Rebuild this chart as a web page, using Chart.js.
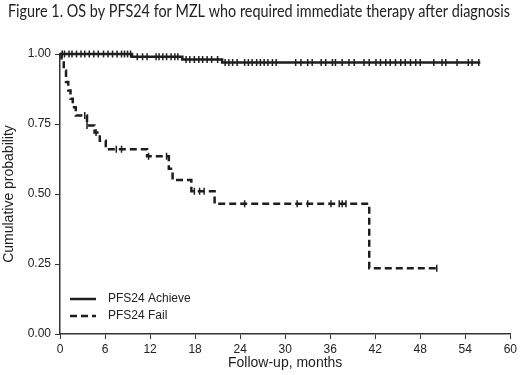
<!DOCTYPE html>
<html>
<head>
<meta charset="utf-8">
<script src="https://cdn.jsdelivr.net/npm/chart.js@4"></script>
<style>
  html, body { margin: 0; padding: 0; background: #fff; }
  #wrap { width: 520px; height: 375px; position: relative; }
</style>
</head>
<body>
<div id="wrap"><canvas id="kmChart"></canvas></div>
<script>
// Kaplan-Meier step points: time (months) and survival after each step
const achieveTimes = [0, 9.6, 16.3, 21.6, 56.0];
const achieveSurv  = [1.0, 0.99, 0.98, 0.97, 0.97];
const failTimes = [0, 0.2, 0.5, 0.8, 1.1, 1.4, 1.7, 2.1, 3.6, 4.6, 5.3, 6.1, 11.6, 14.5, 15.0, 17.5, 20.6, 41.2, 50.2];
const failSurv  = [1.0, 0.97, 0.94, 0.90, 0.87, 0.84, 0.81, 0.78, 0.745, 0.72, 0.69, 0.66, 0.635, 0.59, 0.55, 0.51, 0.465, 0.235, 0.235];

// censored observations (tick marks)
const achieveCensor = [0.3, 0.6, 1.2, 1.6, 2.2, 2.8, 3.3, 3.9, 4.5, 5.1, 5.8, 6.4, 7.0, 7.6, 8.2, 8.6, 9.0, 9.4,
  10.3, 11.0, 11.6, 12.8, 13.2, 13.7, 14.2, 14.8, 15.3, 15.7, 16.8, 17.3, 17.9, 18.5, 19.0, 19.6, 20.2, 21.0,
  22.0, 22.5, 23.0, 23.6, 24.6, 25.1, 25.6, 26.2, 26.7, 27.2, 27.7, 28.3, 28.8, 31.4, 32.1, 33.0, 33.6, 34.8,
  35.4, 36.3, 36.7, 37.6, 38.5, 39.2, 40.5, 41.2, 42.1, 42.7, 43.4, 44.0, 44.7, 45.4, 46.0, 46.7, 47.4, 48.0,
  49.8, 50.9, 51.4, 52.9, 54.4, 54.9, 55.8];
const failCensor = [3.3, 3.6, 4.8, 7.5, 8.2, 11.8, 14.2, 17.9, 18.6, 19.2, 24.6, 31.6, 33.0, 36.1, 37.2, 37.6, 38.1, 50.2];

const xTicks = [0, 6, 12, 18, 24, 30, 36, 42, 48, 54, 60];
const yTicks = [0, 0.25, 0.5, 0.75, 1.0];
const seriesNames = ['PFS24 Achieve', 'PFS24 Fail'];
const chartTitle = 'Figure 1. OS by PFS24 for MZL who required immediate therapy after diagnosis';

function survAt(times, surv, t) {
  let s = surv[0];
  for (let i = 0; i < times.length; i++) {
    if (times[i] <= t) s = surv[i];
  }
  return s;
}
function toPoints(times, surv) {
  return times.map((t, i) => ({ x: t, y: surv[i] }));
}
function censorPoints(cens, times, surv) {
  return cens.map(t => ({ x: t, y: survAt(times, surv, t) }));
}

const ink = '#1e1e1e';
const arial = '"Liberation Sans", Arial, sans-serif';

// title across the top and legend inside the plot, bottom left
const extras = {
  id: 'extras',
  afterDraw(chart) {
    const ctx = chart.ctx;
    ctx.save();
    ctx.fillStyle = '#222';
    ctx.font = '16.5px Lato, "Open Sans", sans-serif';
    ctx.textAlign = 'center';
    ctx.textBaseline = 'middle';
    ctx.fillText(chartTitle, 259, 12, 502); // narrow like the original's Calibri

    const items = [
      { label: seriesNames[0], dash: [] },
      { label: seriesNames[1], dash: [7, 4] }
    ];
    ctx.textAlign = 'left';
    items.forEach((it, i) => {
      const y = 299 + i * 17;
      ctx.strokeStyle = ink;
      ctx.lineWidth = 2.5;
      ctx.setLineDash(it.dash);
      ctx.beginPath();
      ctx.moveTo(70, y);
      ctx.lineTo(96, y);
      ctx.stroke();
      ctx.setLineDash([]);
      ctx.fillStyle = '#222';
      ctx.font = '12px ' + arial;
      ctx.fillText(it.label, 108, y);
    });
    ctx.restore();
  }
};

const ctx = document.getElementById('kmChart').getContext('2d');
new Chart(ctx, {
  type: 'line',
  data: {
    datasets: [
      {
        label: seriesNames[0],
        data: toPoints(achieveTimes, achieveSurv),
        stepped: true,
        borderColor: ink,
        borderWidth: 2.5,
        pointRadius: 0,
        fill: false,
        clip: 8
      },
      {
        label: seriesNames[1],
        data: toPoints(failTimes, failSurv),
        stepped: true,
        borderColor: ink,
        borderWidth: 2.5,
        borderDash: [7, 4],
        pointRadius: 0,
        fill: false,
        clip: 8
      },
      {
        type: 'scatter',
        label: 'achieve censored',
        data: censorPoints(achieveCensor, achieveTimes, achieveSurv),
        pointStyle: 'line',
        rotation: 90,
        radius: 3.5,
        borderColor: ink,
        borderWidth: 1.5,
        clip: 8
      },
      {
        type: 'scatter',
        label: 'fail censored',
        data: censorPoints(failCensor, failTimes, failSurv),
        pointStyle: 'line',
        rotation: 90,
        radius: 3.5,
        borderColor: ink,
        borderWidth: 1.5,
        clip: 8
      }
    ]
  },
  options: {
    responsive: true,
    maintainAspectRatio: false,
    animation: false,
    layout: { padding: { left: 0, right: 8, top: 54, bottom: 0 } },
    plugins: {
      legend: { display: false },
      tooltip: { enabled: false },
      title: { display: false }
    },
    scales: {
      x: {
        type: 'linear',
        min: 0,
        max: 60,
        afterFit: s => { s.height = 41; },
        afterBuildTicks: s => { s.ticks = xTicks.map(v => ({ value: v })); },
        ticks: {
          color: '#222',
          padding: 3,
          font: { family: arial, size: 12 },
          maxRotation: 0
        },
        grid: { drawOnChartArea: false, drawTicks: true, tickLength: 5, color: '#333', lineWidth: 1 },
        border: { display: true, color: '#333', width: 1.5 },
        title: {
          display: true,
          text: 'Follow-up, months',
          color: '#222',
          font: { family: arial, size: 14 },
          padding: { top: 0, bottom: 3 }
        }
      },
      y: {
        type: 'linear',
        min: 0,
        max: 1,
        afterFit: s => { s.width = 60; },
        afterBuildTicks: s => { s.ticks = yTicks.map(v => ({ value: v })); },
        ticks: {
          color: '#222',
          padding: 4,
          font: { family: arial, size: 12 },
          callback: v => Number(v).toFixed(2)
        },
        grid: { drawOnChartArea: false, drawTicks: true, tickLength: 5, color: '#333', lineWidth: 1 },
        border: { display: true, color: '#333', width: 1.5 },
        title: {
          display: true,
          text: 'Cumulative probability',
          color: '#222',
          font: { family: arial, size: 14 },
          padding: { top: 1, bottom: 0 }
        }
      }
    }
  },
  plugins: [extras]
});
</script>
</body>
</html>
